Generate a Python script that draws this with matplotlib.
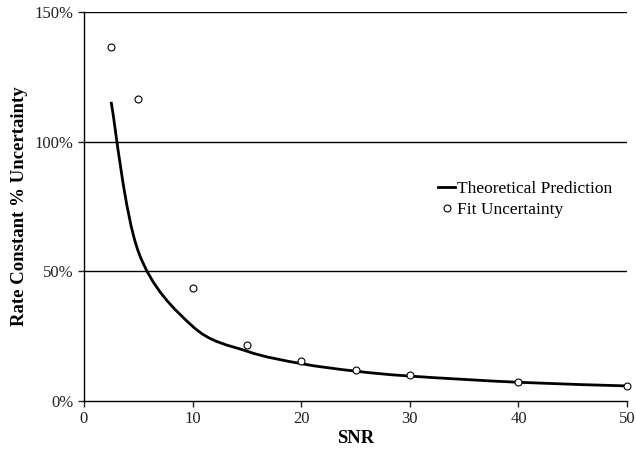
import matplotlib
matplotlib.use("Agg")
import matplotlib.pyplot as plt
from matplotlib.path import Path
from matplotlib.patches import PathPatch
from matplotlib.lines import Line2D
from matplotlib.ticker import FuncFormatter

plt.rcParams['font.family'] = ['Liberation Serif', 'DejaVu Serif']

snr = [2.5, 5, 10, 15, 20, 25, 30, 40, 50]
theory_pct = [115.4, 57.7, 28.8, 19.2, 14.4, 11.5, 9.6, 7.2, 5.8]
fit_pct = [136.4, 116.3, 43.6, 21.5, 15.3, 12.1, 9.9, 7.3, 5.8]


def smooth_path(xs, ys):
    """Bezier path through the points, spreadsheet-style smoothing."""
    pts = list(zip(xs, ys))
    verts = [pts[0]]
    codes = [Path.MOVETO]
    n = len(pts)
    for i in range(n - 1):
        p0 = pts[i - 1] if i > 0 else pts[i]
        p1 = pts[i]
        p2 = pts[i + 1]
        p3 = pts[i + 2] if i + 2 < n else pts[i + 1]
        c1 = (p1[0] + (p2[0] - p0[0]) / 6, p1[1] + (p2[1] - p0[1]) / 6)
        c2 = (p2[0] - (p3[0] - p1[0]) / 6, p2[1] - (p3[1] - p1[1]) / 6)
        verts += [c1, c2, p2]
        codes += [Path.CURVE4] * 3
    return Path(verts, codes)


fig = plt.figure(figsize=(6.36, 4.49), dpi=100)
ax = fig.add_axes([0.132, 0.107, 0.854, 0.866])

ax.set_xlim(0, 50)
ax.set_ylim(0, 150)
ax.set_xticks([0, 10, 20, 30, 40, 50])
ax.set_yticks([0, 50, 100, 150])
ax.yaxis.set_major_formatter(FuncFormatter(lambda v, p: f"{int(v)}%"))

for y in [50, 100, 150]:
    ax.axhline(y, color='black', lw=1.0, zorder=1)

ax.spines['top'].set_visible(False)
ax.spines['right'].set_visible(False)
ax.spines['left'].set_linewidth(1.0)
ax.spines['bottom'].set_linewidth(1.0)
ax.tick_params(axis='both', direction='out', length=4, width=1.0,
               labelsize=12, colors='#222222')

patch = PathPatch(smooth_path(snr, theory_pct), facecolor='none',
                  edgecolor='black', lw=2.0, zorder=3, clip_on=False)
ax.add_patch(patch)

ax.plot(snr, fit_pct, linestyle='none', marker='o', markersize=5,
        markerfacecolor='white', markeredgecolor='black',
        markeredgewidth=0.8, zorder=4, clip_on=False)

handles = [Line2D([], [], color='black', lw=2.0),
           Line2D([], [], linestyle='none', marker='o', markersize=5,
                  markerfacecolor='white', markeredgecolor='black',
                  markeredgewidth=0.8)]
ax.legend(handles, ['Theoretical Prediction', 'Fit Uncertainty'],
          loc='center left', bbox_to_anchor=(0.652, 0.518), frameon=False,
          fontsize=12.5, handlelength=1.0, handletextpad=0.1,
          labelspacing=0.25, borderaxespad=0, borderpad=0)

ax.set_xlabel('SNR', fontsize=13.5, fontweight='bold', labelpad=2)
ax.set_ylabel('Rate Constant % Uncertainty', fontsize=13.5,
              fontweight='bold', labelpad=5)

fig.savefig('out.png', dpi=100)
